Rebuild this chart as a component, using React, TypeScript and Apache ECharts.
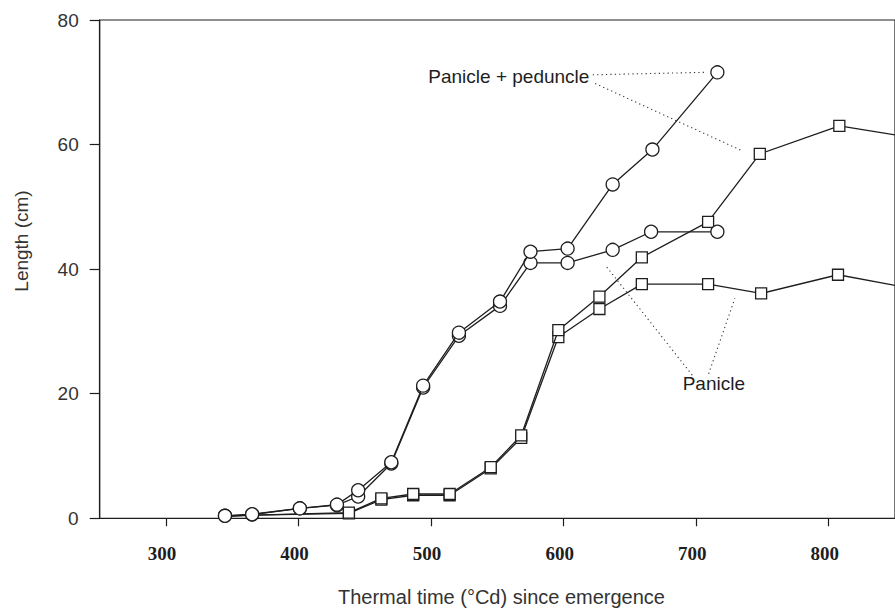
import { useEffect, useRef } from "react";
import * as echarts from "echarts";

// Axis ticks
const xTickValues = [300, 400, 500, 600, 700, 800];
const xMin = 250;
const xMax = 850;
const yMin = 0;
const yMax = 80;
const yStep = 20;

// Panicle + peduncle (circles), treatment A (upper)
const ppTimeA = [344.5, 365, 401, 429, 445, 470, 494, 521, 552, 575, 603, 637, 667, 716];
const ppLenA = [0.4, 0.65, 1.6, 2.2, 4.5, 9.0, 21.3, 29.8, 34.8, 42.8, 43.3, 53.6, 59.2, 71.6];
// Panicle + peduncle (circles), treatment B (lower)
const ppTimeB = [344.5, 365, 401, 429, 445, 470, 494, 521, 552, 575, 603, 637, 666, 716];
const ppLenB = [0.4, 0.6, 1.6, 2.1, 3.5, 8.8, 21.0, 29.3, 34.1, 41.0, 41.0, 43.1, 46.0, 46.0];

// Panicle (squares), treatment A (upper)
const pTimeA = [345, 365, 438, 462.5, 486.5, 514, 545, 568, 596, 627, 659, 709, 748, 808, 860];
const pLenA = [0.3, 0.5, 0.9, 3.2, 3.9, 3.9, 8.2, 13.3, 30.2, 35.6, 41.9, 47.6, 58.5, 63.0, 61.2];
// Panicle (squares), treatment B (lower)
const pTimeB = [345, 365, 438, 462.5, 486.5, 514, 545, 568, 596, 627, 659, 709, 749, 807, 860];
const pLenB = [0.3, 0.5, 0.8, 3.0, 3.7, 3.7, 8.0, 12.9, 29.1, 33.6, 37.6, 37.6, 36.1, 39.1, 37.0];
// Panicle points drawn without a marker (hidden behind the circles)
const pNoMarkerTimes = [345, 365];

// Leader lines (data coordinates)
const leaderPP1X = [622.0, 706.9];
const leaderPP1Y = [71.2, 71.6];
const leaderPP2X = [623.8, 734.7];
const leaderPP2Y = [69.8, 59.0];
const leaderP1X = [697.0, 631.2];
const leaderP1Y = [23.0, 40.7];
const leaderP2X = [709.4, 729.2];
const leaderP2Y = [23.2, 35.3];

const SANS = '"Liberation Sans", Arial, Helvetica, sans-serif';
const SERIF = '"Liberation Serif", "Times New Roman", Times, serif';
const INK = "#1e1e1e";

function zip(xs: number[], ys: number[]) {
  return xs.map((x, i) => [x, ys[i]]);
}

export default function App() {
  const ref = useRef<HTMLDivElement>(null);

  useEffect(() => {
    if (!ref.current) return;
    const chart = echarts.init(ref.current, undefined, { renderer: "svg" });

    const markerStyle = {
      color: "#ffffff",
      borderColor: INK,
      borderWidth: 1.3,
    };
    const lineStyle = { color: INK, width: 1.3 };

    const squareData = (xs: number[], ys: number[]) =>
      xs.map((x, i) =>
        pNoMarkerTimes.includes(x)
          ? { value: [x, ys[i]], symbol: "none" }
          : { value: [x, ys[i]] }
      );

    const leader = (xs: number[], ys: number[]) => ({
      type: "line",
      data: zip(xs, ys),
      symbol: "none",
      silent: true,
      z: 1,
      lineStyle: { color: "#333", width: 1.1, type: [1.2, 3.2] },
    });

    chart.setOption({
      animation: false,
      backgroundColor: "#ffffff",
      grid: {
        left: 99.7,
        top: 20,
        right: -10.5,
        bottom: 97.7,
        show: true,
        borderColor: INK,
        borderWidth: 1.2,
        backgroundColor: "transparent",
        containLabel: false,
      },
      xAxis: {
        type: "value",
        min: xMin,
        max: xMax,
        interval: 50,
        axisLine: { show: true, onZero: false, lineStyle: { color: INK, width: 1.2 } },
        axisTick: {
          show: true,
          inside: false,
          length: 8,
          customValues: xTickValues,
          lineStyle: { color: INK, width: 1.2 },
        },
        axisLabel: {
          show: true,
          customValues: xTickValues,
          margin: 26,
          fontFamily: SERIF,
          fontWeight: "bold",
          fontSize: 19,
          color: INK,
          padding: [0, 8, 0, 0],
        },
        splitLine: { show: false },
      },
      yAxis: {
        type: "value",
        min: yMin,
        max: yMax,
        interval: yStep,
        axisLine: { show: true, onZero: false, lineStyle: { color: INK, width: 1.2 } },
        axisTick: { show: true, inside: false, length: 10, lineStyle: { color: INK, width: 1.2 } },
        axisLabel: {
          show: true,
          margin: 21,
          fontFamily: SANS,
          fontSize: 19,
          color: "#333",
        },
        splitLine: { show: false },
      },
      graphic: [
        {
          type: "text",
          x: 501.5,
          y: 597,
          style: {
            text: "Thermal time (°Cd) since emergence",
            fontFamily: SANS,
            fontSize: 20,
            fill: "#333",
            align: "center",
            verticalAlign: "middle",
          },
        },
        {
          type: "text",
          x: 21.7,
          y: 241,
          rotation: Math.PI / 2,
          style: {
            text: "Length (cm)",
            fontFamily: SANS,
            fontSize: 19,
            fill: "#333",
            align: "center",
            verticalAlign: "middle",
          },
        },
        {
          type: "text",
          x: 428.3,
          y: 76.7,
          style: {
            text: "Panicle + peduncle",
            fontFamily: SANS,
            fontSize: 19,
            fill: INK,
            align: "left",
            verticalAlign: "middle",
          },
        },
        {
          type: "text",
          x: 682.7,
          y: 383.3,
          style: {
            text: "Panicle",
            fontFamily: SANS,
            fontSize: 19,
            fill: INK,
            align: "left",
            verticalAlign: "middle",
          },
        },
      ],
      series: [
        leader(leaderPP1X, leaderPP1Y),
        leader(leaderPP2X, leaderPP2Y),
        leader(leaderP1X, leaderP1Y),
        leader(leaderP2X, leaderP2Y),
        {
          name: "Panicle B",
          type: "line",
          data: squareData(pTimeB, pLenB),
          symbol: "rect",
          symbolSize: 11,
          showAllSymbol: true,
          itemStyle: markerStyle,
          lineStyle,
          z: 2,
        },
        {
          name: "Panicle A",
          type: "line",
          data: squareData(pTimeA, pLenA),
          symbol: "rect",
          symbolSize: 11,
          showAllSymbol: true,
          itemStyle: markerStyle,
          lineStyle,
          z: 3,
        },
        {
          name: "Panicle + peduncle B",
          type: "line",
          data: zip(ppTimeB, ppLenB),
          symbol: "circle",
          symbolSize: 13,
          showAllSymbol: true,
          itemStyle: markerStyle,
          lineStyle,
          z: 4,
        },
        {
          name: "Panicle + peduncle A",
          type: "line",
          data: zip(ppTimeA, ppLenA),
          symbol: "circle",
          symbolSize: 13,
          showAllSymbol: true,
          itemStyle: markerStyle,
          lineStyle,
          z: 5,
        },
      ],
    });

    return () => chart.dispose();
  }, []);

  return (
    <div
      ref={ref}
      style={{ position: "absolute", left: 0, top: 0, width: 895, height: 616 }}
    />
  );
}
